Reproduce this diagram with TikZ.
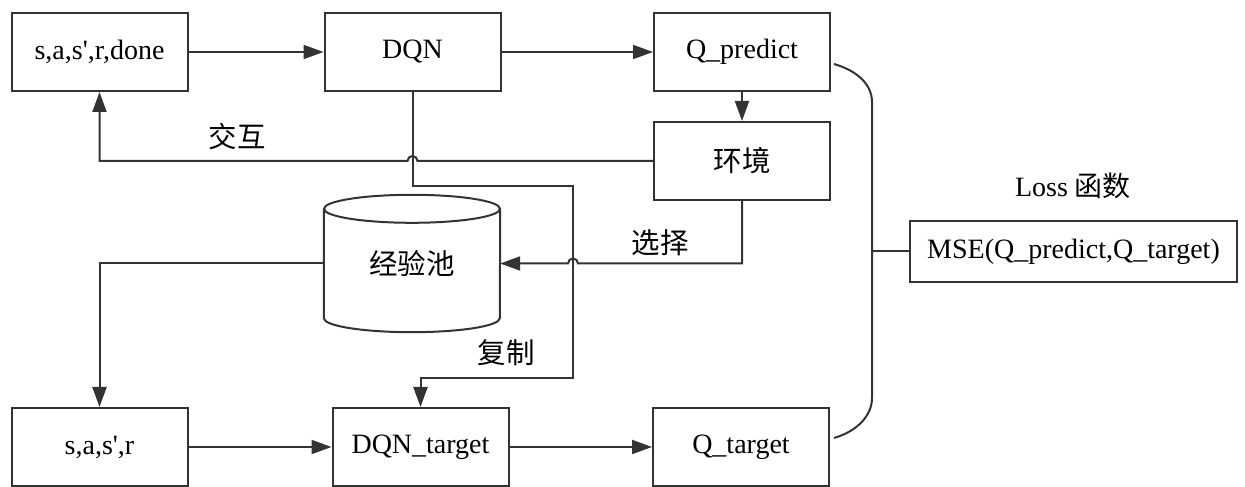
\documentclass[tikz,border=0pt]{standalone}
\usepackage{fontspec}
\setmainfont{Liberation Serif}
\newfontfamily\cjk{Noto Sans CJK SC}
\usetikzlibrary{arrows.meta,calc}
\definecolor{ink}{HTML}{333333}
\newcommand{\sq}{\textquotesingle}
\tikzset{
  box/.style={draw=ink, line width=2pt, minimum width=176pt, minimum height=78pt,
              inner sep=0pt, font=\fontsize{28}{32}\selectfont},
  lbl/.style={inner sep=0pt, font=\cjk\fontsize{28.5}{32}\selectfont},
  link/.style={draw=ink, line width=2pt},
  arr/.style={link, -{Triangle[length=20pt,width=14pt]}},
}
\begin{document}
\begin{tikzpicture}[x=1pt,y=1pt]
\useasboundingbox (0,0) rectangle (1245,487);

% top row
\node[box] (obs)  at (99.5,435) {s,a,s\sq,r,done};
\node[box] (dqn)  at (412.5,435) {DQN};
\node[box] (qp)   at (742,435) {Q\_predict};
\node[box, font=\cjk\fontsize{28.5}{32}\selectfont] (env) at (742,326) {环境};

% replay memory drawn as a cylinder
\node[minimum width=176pt, minimum height=137pt, inner sep=0pt,
      font=\cjk\fontsize{28.5}{32}\selectfont] (pool) at (412,223.5) {经验池};
\draw[link] ($(pool.north)+(0,-14)$) ellipse [x radius=88, y radius=14];
\draw[link] ($(pool.north west)+(0,-14)$) -- ($(pool.south west)+(0,14)$)
  arc [start angle=180, end angle=360, x radius=88, y radius=14]
  -- ($(pool.north east)+(0,-14)$);

% bottom row
\node[box] (batch) at (99.5,40) {s,a,s\sq,r};
\node[box] (dqnt)  at (420.5,40) {DQN\_target};
\node[box] (qt)    at (741,40) {Q\_target};

% loss
\node[box, minimum width=327pt, minimum height=61pt] (mse) at (1073.5,235.5) {MSE(Q\_predict,Q\_target)};
\node[inner sep=0pt, font=\fontsize{28}{32}\selectfont] (losslbl) at (1073,301) {Loss {\cjk 函数}};

% labels
\node[lbl] (tInter) at (237,350) {交互};
\node[lbl] (tSel)   at (660,244) {选择};
\node[lbl] (tCopy)  at (506,134) {复制};

% routing points
\coordinate (c1) at (573,301);
\coordinate (c2) at (573,109);
\coordinate (j1) at (dqn.south |- env.west);
\coordinate (j2) at (c1 |- pool.east);

% forward arrows
\draw[arr] (obs) -- (dqn);
\draw[arr] (dqn) -- (qp);
\draw[arr] (qp) -- (env);
\draw[arr] (batch) -- (dqnt);
\draw[arr] (dqnt) -- (qt);

% interaction feedback, hopping over the copy line
\draw[arr] (env.west) -- ($(j1)+(5,0)$) arc [start angle=0, end angle=180, radius=5] -| (obs.south);

% copy weights to the target network
\draw[arr] (dqn.south) |- (c1) -- (c2) -| (dqnt.north);

% store transitions, hopping over the copy line
\draw[arr] (env.south) |- ($(j2)+(5,0)$) arc [start angle=0, end angle=180, radius=5] -- (pool.east);

% sample a batch
\draw[arr] (pool.west) -| (batch.north);

% brace joining both Q values to the loss
\coordinate (b1) at (834,423);
\coordinate (b2) at (834,49);
\coordinate (bm) at (872,235.5);
\draw[link] (b1) .. controls (858,416) and (872,402) .. (872,385)
  -- (872,89) .. controls (872,72) and (858,56) .. (b2);
\draw[link] (bm) -- (mse.west);
\end{tikzpicture}
\end{document}
